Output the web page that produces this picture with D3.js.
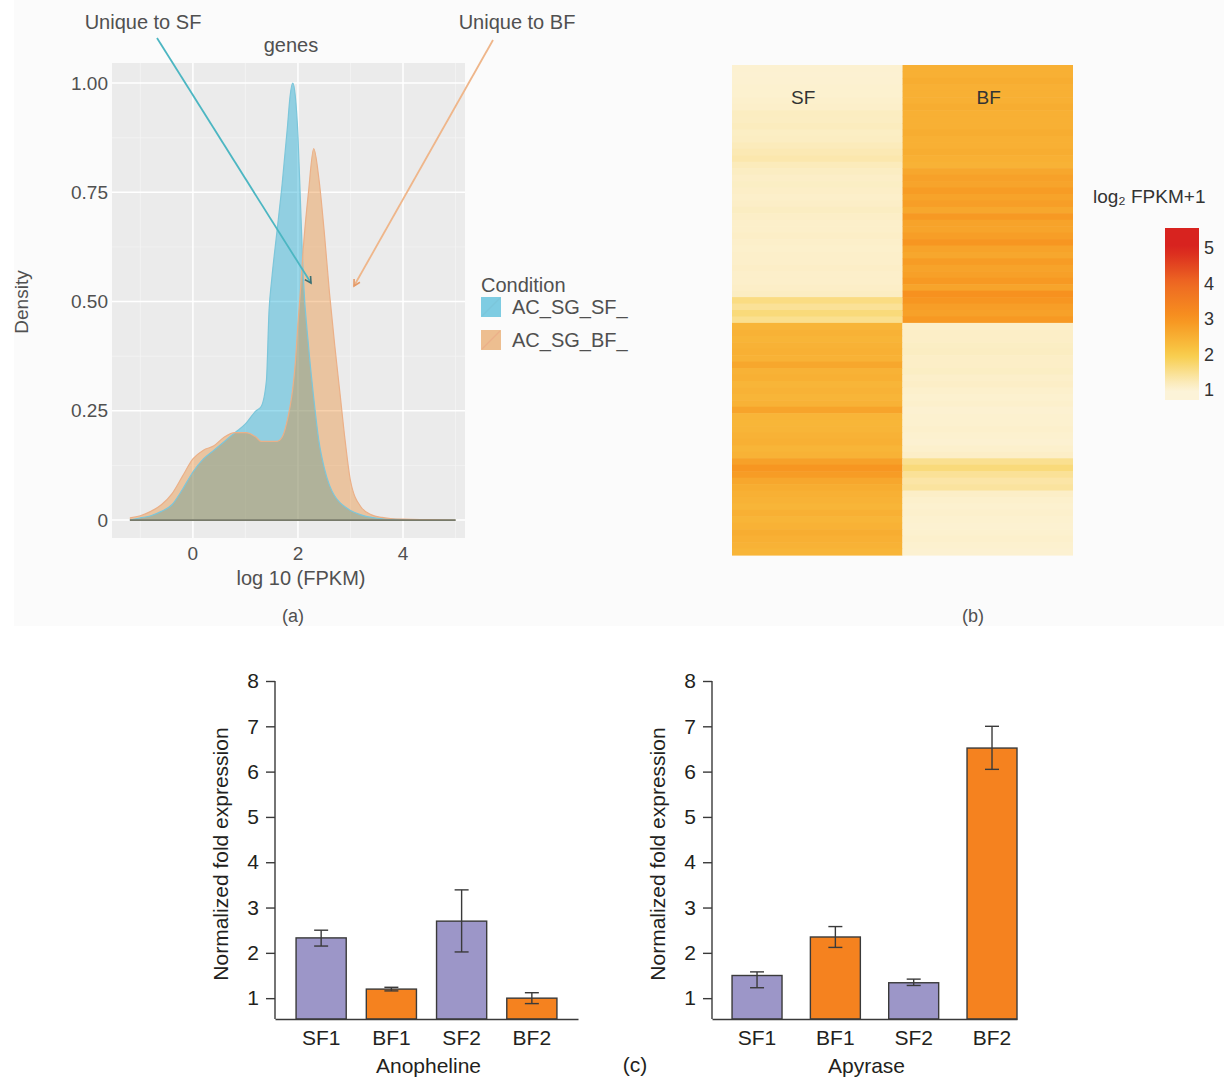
<!DOCTYPE html>
<html>
<head>
<meta charset="utf-8">
<script src="https://cdn.jsdelivr.net/npm/d3@7"></script>
<style>
  body { margin: 0; background: #fff; }
  svg { display: block; font-family: "Liberation Sans", Arial, sans-serif; }
</style>
</head>
<body>
<svg id="fig" width="1224" height="1079"></svg>
<script>
// ---- panel (a): density of log10(FPKM) ----
const densX = [-1.2, -1.0, -0.8, -0.6, -0.4, -0.2, 0, 0.2, 0.4, 0.6, 0.8, 1.0, 1.2, 1.3, 1.4, 1.45, 1.5, 1.6, 1.7, 1.8,
  1.85, 1.9, 1.95, 2.0, 2.05, 2.1, 2.2, 2.3, 2.4, 2.5, 2.6, 2.7, 2.8, 2.9, 3.0, 3.2, 3.4, 3.6, 3.8, 4.0, 4.5, 5.0];
const densSF = [0, 0.005, 0.01, 0.02, 0.035, 0.07, 0.11, 0.14, 0.16, 0.18, 0.2, 0.22, 0.25, 0.26, 0.32, 0.48, 0.55, 0.66, 0.77, 0.9,
  0.97, 1.0, 0.97, 0.88, 0.72, 0.56, 0.4, 0.28, 0.18, 0.12, 0.08, 0.055, 0.04, 0.03, 0.022, 0.012, 0.006, 0.003, 0.002, 0.001, 0, 0];
const densBF = [0.005, 0.01, 0.02, 0.035, 0.06, 0.1, 0.14, 0.16, 0.17, 0.19, 0.2, 0.2, 0.19, 0.18, 0.18, 0.18, 0.18, 0.18, 0.19, 0.23,
  0.26, 0.3, 0.36, 0.45, 0.53, 0.62, 0.75, 0.85, 0.78, 0.66, 0.52, 0.4, 0.29, 0.18, 0.09, 0.03, 0.012, 0.006, 0.003, 0.002, 0.001, 0];
const conditions = ['AC_SG_SF_', 'AC_SG_BF_'];
const densYTicks = [0, 0.25, 0.5, 0.75, 1];
const densYLabels = ['0', '0.25', '0.50', '0.75', '1.00'];
const densXTicks = [0, 2, 4];

// ---- panel (b): heatmap, log2 FPKM+1 per gene ----
const heatCols = ['SF', 'BF'];
const heatSF = [1.05, 1.04, 1.05, 1.06, 1.06, 1.08, 1.1,
  1.16, 1.15, 1.18, 1.14, 1.15, 1.2, 1.25,
  1.3, 1.2, 1.15,
  1.12, 1.14, 1.12, 1.1, 1.12, 1.15, 1.12, 1.1, 1.1, 1.12, 1.1, 1.08, 1.1, 1.1, 1.12, 1.1, 1.1, 1.12, 1.15,
  1.6, 1.45, 1.65, 1.5,
  2.4, 2.45, 2.4, 2.45, 2.5, 2.45,
  2.65,
  2.45, 2.5, 2.4, 2.45, 2.4, 2.45,
  2.7,
  2.4, 2.38, 2.4, 2.45, 2.5, 2.4, 2.45,
  2.75, 2.95, 2.85,
  2.65, 2.55, 2.5,
  2.45, 2.4, 2.5, 2.4, 2.45, 2.55, 2.5, 2.45, 2.4];
const heatBF = [2.5, 2.5, 2.55, 2.5, 2.5, 2.5, 2.55, 2.5, 2.5, 2.5, 2.55, 2.5, 2.5, 2.55, 2.5, 2.45,
  2.65, 2.75, 2.7, 2.85, 2.72, 2.8, 2.65, 2.9, 2.72, 2.7, 2.8, 2.95, 2.72, 2.65, 2.85, 2.72, 2.78, 2.9, 2.7, 3.05, 2.95, 2.8, 2.75, 2.9,
  1.1, 1.12, 1.12, 1.14, 1.15, 1.12, 1.12, 1.14, 1.1, 1.12, 1.08, 1.06, 1.08, 1.05, 1.06, 1.06, 1.08, 1.06, 1.05, 1.08, 1.12,
  1.5, 1.65, 1.45, 1.35, 1.4,
  1.12, 1.08, 1.06, 1.08, 1.06, 1.05, 1.06, 1.08, 1.06, 1.05];
const heatLegendTicks = [1, 2, 3, 4, 5];

// ---- panel (c): qPCR fold expression ----
const samples = ['SF1', 'BF1', 'SF2', 'BF2'];
const anophelineMean = [2.33, 1.2, 2.7, 1.0];
const anophelineLow = [2.15, 1.16, 2.02, 0.88];
const anophelineHigh = [2.5, 1.24, 3.39, 1.12];
const apyraseMean = [1.5, 2.35, 1.34, 6.52];
const apyraseLow = [1.23, 2.12, 1.28, 6.05];
const apyraseHigh = [1.58, 2.58, 1.42, 7.0];
const foldTicks = [1, 2, 3, 4, 5, 6, 7, 8];

const svg = d3.select('#fig');
const grey = '#505050';

// faint backdrop behind the top half of the figure
svg.append('rect').attr('x', 14).attr('y', 0).attr('width', 1210).attr('height', 626).attr('fill', '#fbfbfb');

function drawDensity() {
  const g = svg.append('g');
  const x = d3.scaleLinear().domain([-1.54, 5.18]).range([112, 465]);
  const y = d3.scaleLinear().domain([-0.041, 1.046]).range([538, 63]);

  g.append('rect').attr('x', 112).attr('y', 63).attr('width', 353).attr('height', 475).attr('fill', '#ebebeb');

  // minor then major grid
  [0.125, 0.375, 0.625, 0.875].forEach((v) =>
    g.append('line').attr('x1', 112).attr('x2', 465).attr('y1', y(v)).attr('y2', y(v))
      .attr('stroke', '#f5f5f5').attr('stroke-width', 0.7));
  [-1, 1, 3, 5].forEach((v) =>
    g.append('line').attr('x1', x(v)).attr('x2', x(v)).attr('y1', 63).attr('y2', 538)
      .attr('stroke', '#f5f5f5').attr('stroke-width', 0.7));
  densYTicks.forEach((v) =>
    g.append('line').attr('x1', 112).attr('x2', 465).attr('y1', y(v)).attr('y2', y(v))
      .attr('stroke', '#fff').attr('stroke-width', 1.5));
  densXTicks.forEach((v) =>
    g.append('line').attr('x1', x(v)).attr('x2', x(v)).attr('y1', 63).attr('y2', 538)
      .attr('stroke', '#fff').attr('stroke-width', 1.5));

  const pts = (arr) => densX.map((d, i) => [d, arr[i]]);
  const area = d3.area().x((d) => x(d[0])).y0(y(0)).y1((d) => y(d[1])).curve(d3.curveMonotoneX);
  const line = d3.line().x((d) => x(d[0])).y((d) => y(d[1])).curve(d3.curveMonotoneX);

  const series = [
    { vals: densSF, fill: '#0aa6d2', op: 0.4, stroke: '#7cc6da' },
    { vals: densBF, fill: '#e8801c', op: 0.36, stroke: '#ebb088' }
  ];
  series.forEach((s) => {
    g.append('path').attr('d', area(pts(s.vals))).attr('fill', s.fill).attr('fill-opacity', s.op);
  });
  series.forEach((s) => {
    g.append('path').attr('d', line(pts(s.vals))).attr('fill', 'none')
      .attr('stroke', s.stroke).attr('stroke-width', 1.2);
  });
  g.append('line').attr('x1', x(-1.2)).attr('x2', x(5)).attr('y1', y(0)).attr('y2', y(0))
    .attr('stroke', '#777a6a').attr('stroke-width', 1.6);

  // axes labels
  densYTicks.forEach((v, i) => {
    g.append('text').attr('x', 108).attr('y', y(v)).attr('dy', '0.35em').attr('text-anchor', 'end')
      .attr('font-size', 19).attr('fill', grey).text(densYLabels[i]);
  });
  densXTicks.forEach((v) => {
    g.append('text').attr('x', x(v)).attr('y', 560).attr('text-anchor', 'middle')
      .attr('font-size', 19).attr('fill', grey).text(v);
  });
  g.append('text').attr('x', 301).attr('y', 585).attr('text-anchor', 'middle')
    .attr('font-size', 20).attr('fill', grey).text('log 10 (FPKM)');
  g.append('text').attr('transform', 'translate(28,302) rotate(-90)').attr('text-anchor', 'middle')
    .attr('font-size', 19).attr('fill', grey).text('Density');
  g.append('text').attr('x', 291).attr('y', 52).attr('text-anchor', 'middle')
    .attr('font-size', 20).attr('fill', grey).text('genes');
  g.append('text').attr('x', 293).attr('y', 622).attr('text-anchor', 'middle')
    .attr('font-size', 18).attr('fill', grey).text('(a)');

  // annotation arrows
  const notes = [
    { label: 'Unique to SF', tx: 143, from: [157, 38], to: [311, 283], col: '#4cb6c2', tip: '#3d6f72' },
    { label: 'Unique to BF', tx: 517, from: [493, 40], to: [354, 286], col: '#efb68a', tip: '#e59a68' }
  ];
  notes.forEach((n) => {
    g.append('text').attr('x', n.tx).attr('y', 29).attr('text-anchor', 'middle')
      .attr('font-size', 20).attr('fill', grey).text(n.label);
    g.append('line').attr('x1', n.from[0]).attr('y1', n.from[1]).attr('x2', n.to[0]).attr('y2', n.to[1])
      .attr('stroke', n.col).attr('stroke-width', 1.8);
    const ang = Math.atan2(n.to[1] - n.from[1], n.to[0] - n.from[0]);
    const L = 7;
    const head = [-0.5, 0.5].map((da) => [n.to[0] - L * Math.cos(ang + da), n.to[1] - L * Math.sin(ang + da)]);
    g.append('path')
      .attr('d', `M${head[0][0]},${head[0][1]}L${n.to[0]},${n.to[1]}L${head[1][0]},${head[1][1]}`)
      .attr('fill', 'none').attr('stroke', n.tip).attr('stroke-width', 1.6);
  });

  // legend
  g.append('text').attr('x', 481).attr('y', 292).attr('font-size', 20).attr('fill', grey).text('Condition');
  conditions.forEach((c, i) => {
    const yy = 297 + i * 33;
    g.append('rect').attr('x', 481).attr('y', yy).attr('width', 20).attr('height', 20).attr('fill', '#f2f2f2');
    g.append('rect').attr('x', 481).attr('y', yy).attr('width', 20).attr('height', 20)
      .attr('fill', series[i].fill).attr('fill-opacity', series[i].op + 0.1);
    g.append('line').attr('x1', 482).attr('y1', yy + 19).attr('x2', 500).attr('y2', yy + 1)
      .attr('stroke', series[i].stroke).attr('stroke-width', 1.2);
    g.append('text').attr('x', 512).attr('y', yy + 17).attr('font-size', 20).attr('fill', grey).text(c);
  });
}

function drawHeatmap() {
  const g = svg.append('g');
  const rows = d3.range(heatSF.length);
  const x = d3.scaleBand().domain(heatCols).range([732, 1073]);
  const y = d3.scaleBand().domain(rows).range([65, 555]);
  const color = d3.scaleLinear().domain([1, 2, 3, 4, 5])
    .range(['#fcf3d8', '#f8cc48', '#f7931f', '#ee6a22', '#d8231f']).clamp(true);

  const cells = [];
  rows.forEach((r) => {
    cells.push({ col: 'SF', row: r, v: heatSF[r] });
    cells.push({ col: 'BF', row: r, v: heatBF[r] });
  });
  g.selectAll('rect.cell').data(cells).join('rect').attr('class', 'cell')
    .attr('x', (d) => x(d.col)).attr('y', (d) => y(d.row))
    .attr('width', x.bandwidth()).attr('height', y.bandwidth() + 0.6)
    .attr('fill', (d) => color(d.v));

  heatCols.forEach((c, i) => {
    g.append('text').attr('x', x(c) + x.bandwidth() / 2 + (i === 0 ? -14 : 1)).attr('y', 104)
      .attr('text-anchor', 'middle').attr('font-size', 19).attr('fill', '#333').text(c);
  });
  g.append('text').attr('x', 973).attr('y', 622).attr('text-anchor', 'middle')
    .attr('font-size', 18).attr('fill', grey).text('(b)');

  // colour key
  const ly = d3.scaleLinear().domain([1, 5]).range([390, 248]);
  const top = 228, bot = 400;
  const grad = svg.append('defs').append('linearGradient').attr('id', 'heatGrad')
    .attr('x1', 0).attr('y1', 1).attr('x2', 0).attr('y2', 0);
  d3.range(0, 1.01, 0.05).forEach((t) => {
    const v = ly.invert(bot - t * (bot - top));
    grad.append('stop').attr('offset', t).attr('stop-color', color(v));
  });
  g.append('rect').attr('x', 1165).attr('y', top).attr('width', 34).attr('height', bot - top)
    .attr('fill', 'url(#heatGrad)');
  heatLegendTicks.forEach((v) => {
    g.append('text').attr('x', 1204).attr('y', ly(v)).attr('dy', '0.35em')
      .attr('font-size', 18).attr('fill', '#333').text(v);
  });
  g.append('text').attr('x', 1093).attr('y', 203).attr('font-size', 19).attr('fill', '#333').text('log₂ FPKM+1');
}

function drawBars(x0, x1, means, lows, highs, title, pInner, pOuter, align) {
  const g = svg.append('g');
  const y = d3.scaleLinear().domain([0.54, 8]).range([1019, 681]);
  const x = d3.scaleBand().domain(samples).range([x0, x1])
    .paddingInner(pInner).paddingOuter(pOuter).align(align);
  const fill = (s) => (s.startsWith('SF') ? '#9c96c8' : '#f5821f');
  const ink = '#3a3a3a';

  g.selectAll('rect.bar').data(samples).join('rect').attr('class', 'bar')
    .attr('x', (s) => x(s))
    .attr('y', (s, i) => y(means[i]))
    .attr('width', x.bandwidth())
    .attr('height', (s, i) => y(0.54) - y(means[i]))
    .attr('fill', fill).attr('stroke', ink).attr('stroke-width', 1.4);

  samples.forEach((s, i) => {
    const cx = x(s) + x.bandwidth() / 2;
    g.append('line').attr('x1', cx).attr('x2', cx).attr('y1', y(lows[i])).attr('y2', y(highs[i]))
      .attr('stroke', ink).attr('stroke-width', 1.4);
    [lows[i], highs[i]].forEach((v) =>
      g.append('line').attr('x1', cx - 7).attr('x2', cx + 7).attr('y1', y(v)).attr('y2', y(v))
        .attr('stroke', ink).attr('stroke-width', 1.4));
  });

  const yAxis = g.append('g').attr('transform', `translate(${x0},0)`)
    .call(d3.axisLeft(y).tickValues(foldTicks).tickSize(9).tickPadding(7).tickSizeOuter(0));
  const xAxis = g.append('g').attr('transform', 'translate(0,1019)')
    .call(d3.axisBottom(x).tickSize(0).tickPadding(11));
  [yAxis, xAxis].forEach((a) => {
    a.select('.domain').attr('stroke', ink).attr('stroke-width', 1.4);
    a.selectAll('.tick line').attr('stroke', ink).attr('stroke-width', 1.4);
    a.selectAll('text').attr('font-size', 21).attr('fill', '#231f20')
      .attr('font-family', '"Liberation Sans", Arial, sans-serif');
  });
  yAxis.select('.domain').attr('d', `M0,${y(0.54)}V${y(8)}`);

  g.append('text').attr('x', (x0 + x1) / 2 + 2).attr('y', 1073).attr('text-anchor', 'middle')
    .attr('font-size', 21).attr('fill', '#231f20').text(title);
  g.append('text').attr('transform', `translate(${x0 - 47},854) rotate(-90)`).attr('text-anchor', 'middle')
    .attr('font-size', 21).attr('fill', '#231f20').text('Normalized fold expression');
}

drawDensity();
drawHeatmap();
drawBars(275, 578, anophelineMean, anophelineLow, anophelineHigh, 'Anopheline', 0.286, 0.3, 0.5);
drawBars(712, 1017, apyraseMean, apyraseLow, apyraseHigh, 'Apyrase', 0.362, 0.128, 1);
svg.append('text').attr('x', 635).attr('y', 1072).attr('text-anchor', 'middle')
  .attr('font-size', 21).attr('fill', '#231f20').text('(c)');
</script>
</body>
</html>
